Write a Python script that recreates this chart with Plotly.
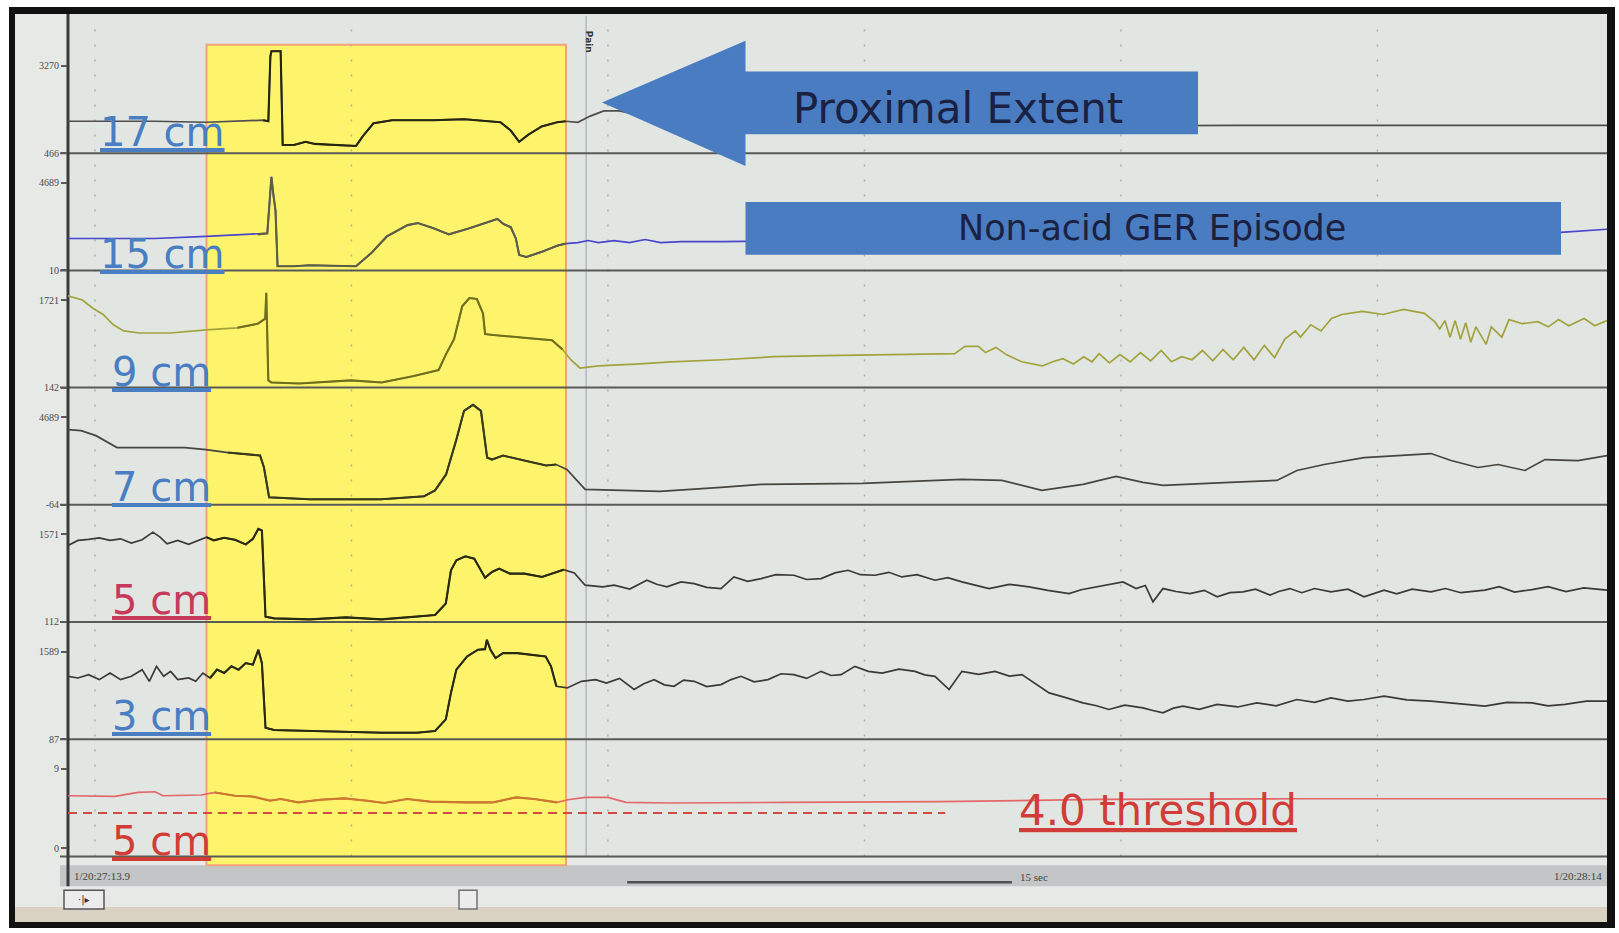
import plotly.graph_objects as go

channel_names = ["17 cm", "15 cm", "9 cm", "7 cm", "5 cm", "3 cm", "5 cm"]
scale_low = [466, 10, 142, -64, 112, 87, 0]
scale_high = [3270, 4689, 1721, 4689, 1571, 1589, 9]

# time in seconds from 1/20:27:13.9 ; impedance in ohm ; pH in units
t_17 = [0, 3.38, 5.39, 7.61, 7.81, 7.89, 7.93, 8.29, 8.37, 8.81, 9.26, 9.62, 10.22, 11.23, 11.51, 11.91,
        12.64, 14.25, 15.45, 16.26, 16.86, 17.26, 17.59, 17.95, 18.47, 19.07, 19.4, 19.88, 20.36, 20.89,
        21.49, 22.29, 23.5, 27.53, 35.57, 45.63, 60]
z_17 = [1489, 1489, 1456, 1522, 1489, 3568, 3733, 3733, 730, 730, 829, 763, 730, 697, 1027, 1423,
        1522, 1522, 1555, 1489, 1456, 1192, 829, 1060, 1324, 1456, 1489, 1456, 1654, 1819,
        1819, 1687, 1489, 1390, 1324, 1357, 1357]

t_15 = [0, 3.38, 5.39, 7.40, 7.77, 7.85, 7.93, 8.01, 8.09, 8.17, 8.81, 9.42, 11.23, 11.83, 12.43, 13.24,
        13.64, 14.25, 14.85, 15.65, 16.46, 16.74, 16.98, 17.26, 17.46, 17.59, 17.87, 18.47, 19.07, 19.40,
        19.88, 20.28, 20.68, 21.29, 21.89, 22.50, 23.10, 23.90, 25.51, 33.56, 41.61, 53.68, 58.19, 60]
z_15 = [1715, 1715, 1825, 1935, 1990, 3475, 5015, 4025, 3200, 230, 230, 285, 230, 945, 1825, 2430,
        2540, 2265, 1935, 2265, 2650, 2760, 2485, 2320, 1715, 835, 725, 1000, 1330, 1440,
        1495, 1605, 1495, 1605, 1495, 1660, 1495, 1550, 1550, 1660, 1825, 1935, 2045, 2210]

t_9 = [0, 0.24, 0.56, 0.97, 1.37, 1.77, 2.17, 2.78, 3.98, 5.39,
       6.60, 7.40, 7.69, 7.73, 7.81, 7.93, 9.01, 11.03, 12.23, 13.44,
       14.45, 14.73, 15.05, 15.37, 15.65, 15.94, 16.18, 16.26, 16.58, 18.27,
       18.87, 19.28, 19.60, 19.96, 20.68, 22.29, 23.50, 25.51, 27.53, 29.54,
       32.76, 34.57, 34.97, 35.49, 35.77, 36.18, 36.58, 37.18, 37.99, 38.39,
       38.79, 39.20, 39.60, 39.92, 40.20, 40.60, 41.01, 41.41, 41.81, 42.21,
       42.62, 43.02, 43.42, 43.82, 44.23, 44.63, 45.03, 45.43, 45.84, 46.24,
       46.64, 47.04, 47.44, 47.85, 48.05, 48.45, 48.85, 49.26, 49.66, 50.46,
       51.27, 52.07, 52.88, 53.28, 53.48, 53.68, 53.88, 54.08, 54.29, 54.49,
       54.69, 54.89, 55.29, 55.49, 55.90, 56.18, 56.70, 57.30, 57.71, 58.11,
       58.51, 59.11, 59.52, 60]
z_9 = [1796, 1758, 1721, 1573, 1461, 1275, 1164, 1127, 1127, 1182,
       1220, 1294, 1387, 1851, 272, 235, 216, 272, 235, 346,
       458, 737, 1015, 1610, 1758, 1740, 1480, 1108, 1090, 1015,
       997, 829, 644, 495, 532, 569, 607, 644, 699, 718,
       737, 755, 885, 885, 774, 867, 737, 607, 532, 607,
       662, 569, 699, 607, 755, 588, 737, 607, 774, 625,
       811, 607, 699, 644, 811, 625, 829, 644, 867, 644,
       904, 681, 1015, 1164, 1052, 1275, 1164, 1387, 1461, 1517,
       1461, 1554, 1480, 1331, 1201, 1350, 1052, 1350, 1015, 1313,
       960, 1238, 922, 1238, 1052, 1368, 1294, 1331, 1238, 1368,
       1257, 1387, 1257, 1350]

t_7 = [0, 0.51, 1.09, 1.91, 3.16, 4.56, 5.38, 6.24, 7.49, 7.64,
       7.84, 9.43, 12.20, 13.88, 14.31, 14.74, 15.13, 15.44, 15.79, 16.10,
       16.34, 16.53, 16.96, 17.78, 18.64, 19.03, 19.45, 20.16, 21.52, 23.08,
       25.46, 27.02, 30.96, 34.85, 36.41, 37.97, 39.57, 40.86, 41.91, 42.69,
       45.30, 47.13, 47.91, 48.97, 50.53, 53.14, 53.92, 54.97, 55.75, 56.80,
       57.58, 58.87, 60]
z_7 = [4013, 3960, 3690, 3042, 3042, 3042, 2934, 2772, 2609, 1961,
       341, 233, 233, 395, 719, 1583, 3420, 5040, 5364, 5040,
       2501, 2393, 2609, 2339, 2069, 2123, 1853, 773, 719, 665,
       881, 1043, 1097, 1313, 1259, 719, 1043, 1475, 1151, 989,
       1151, 1259, 1799, 2123, 2501, 2717, 2339, 1961, 2123, 1799,
       2393, 2339, 2609]

t_5 = [0, 0.39, 0.80, 1.22, 1.64, 2.05, 2.47, 2.89, 3.31, 3.59,
       3.86, 4.28, 4.70, 5.12, 5.40, 5.68, 6.09, 6.51, 6.93, 7.21,
       7.42, 7.56, 7.70, 8.04, 9.43, 10.83, 12.22, 13.61, 14.31, 14.73,
       14.93, 15.14, 15.49, 15.84, 16.26, 16.53, 16.81, 17.23, 17.79, 18.48,
       18.90, 19.32, 19.74, 20.16, 20.85, 21.29, 21.9, 22.57, 22.95, 23.35,
       23.9, 24.41, 24.9, 25.46, 25.96, 26.5, 27.02, 27.6, 28.30, 28.8,
       29.36, 29.9, 30.41, 30.9, 31.46, 32.0, 32.51, 33.1, 33.80, 34.3,
       34.85, 35.4, 35.91, 36.7, 37.47, 38.2, 39.03, 39.5, 40.08, 40.6,
       41.13, 41.64, 42.0, 42.30, 42.69, 43.2, 43.74, 44.3, 44.80, 45.3,
       45.81, 46.3, 46.86, 47.2, 47.64, 48.1, 48.6, 49.24, 49.9, 50.53,
       51.31, 51.8, 52.4, 53.14, 53.7, 54.3, 55.24, 55.8, 56.4, 57.08,
       57.7, 58.4, 59.1, 60]
z_5 = [1389, 1472, 1488, 1515, 1472, 1498, 1427, 1482, 1609, 1526,
       1415, 1472, 1405, 1472, 1526, 1472, 1515, 1482, 1405, 1498,
       1664, 1637, 200, 172, 155, 188, 155, 200, 228, 420,
       974, 1140, 1206, 1166, 851, 946, 1001, 918, 918, 863,
       918, 984, 929, 725, 697, 725, 660, 808, 740, 697,
       780, 752, 690, 669, 863, 790, 835, 900, 891, 820,
       835, 930, 974, 900, 891, 940, 863, 900, 808, 850,
       780, 720, 669, 740, 697, 640, 586, 650, 697, 740,
       780, 669, 720, 449, 669, 620, 586, 640, 531, 600,
       614, 660, 560, 620, 669, 600, 670, 614, 660, 531,
       643, 580, 660, 614, 670, 600, 643, 700, 610, 652,
       700, 620, 680, 643]

t_3 = [0, 0.39, 0.80, 1.22, 1.64, 2.05, 2.47, 2.89, 3.17, 3.45,
       3.73, 4.00, 4.28, 4.70, 4.98, 5.26, 5.54, 5.81, 6.09, 6.37,
       6.65, 6.93, 7.21, 7.42, 7.56, 7.70, 8.04, 9.43, 10.83, 12.22,
       13.61, 14.31, 14.73, 14.93, 15.14, 15.56, 15.98, 16.26, 16.33, 16.47,
       16.67, 16.96, 17.51, 18.07, 18.62, 18.83, 19.04, 19.46, 20.02, 20.57,
       20.99, 21.5, 22.07, 22.45, 22.85, 23.25, 23.63, 24.0, 24.41, 24.9,
       25.46, 25.85, 26.24, 26.75, 27.29, 27.8, 28.30, 28.8, 29.36, 29.75,
       30.14, 30.68, 31.2, 31.74, 32.4, 33.02, 33.4, 33.80, 34.35, 34.85,
       35.5, 36.14, 36.7, 37.19, 37.7, 38.25, 38.9, 39.57, 40.1, 40.58,
       41.2, 41.91, 42.3, 42.69, 43.1, 43.47, 44.1, 44.80, 45.6, 46.35,
       47.1, 47.91, 48.6, 49.24, 49.9, 50.53, 51.31, 52.2, 53.14, 54.2,
       55.24, 56.1, 57.08, 57.7, 58.36, 59.2, 60]
z_3 = [1166, 1137, 1195, 1109, 1222, 1109, 1166, 1280, 1080, 1337,
       1166, 1251, 1109, 1137, 1080, 1222, 1137, 1280, 1222, 1337,
       1280, 1393, 1366, 1622, 1393, 283, 244, 227, 210, 198,
       198, 227, 427, 881, 1280, 1507, 1622, 1632, 1792, 1622,
       1478, 1564, 1564, 1536, 1507, 1337, 995, 966, 1080, 1109,
       1051, 1130, 939, 1040, 1109, 1020, 995, 1100, 1080, 990,
       1024, 1110, 1166, 1070, 1109, 1210, 1195, 1130, 1251, 1180,
       1195, 1337, 1250, 1222, 1290, 1251, 1190, 1166, 939, 1251,
       1200, 1251, 1170, 1195, 1050, 881, 800, 710, 660, 597,
       670, 625, 580, 539, 620, 654, 600, 683, 640, 710,
       660, 768, 720, 795, 740, 768, 824, 760, 739, 700,
       654, 720, 710, 660, 683, 740, 739]

t_ph = [0, 1.83, 2.73, 3.39, 3.70, 5.19, 5.73, 6.51, 7.17, 7.88,
        8.30, 8.97, 9.86, 10.76, 11.66, 12.32, 13.22, 14.11, 15.48, 16.57,
        17.47, 18.17, 19.06, 19.49, 20.16, 21.05, 21.75, 23.51, 27.99, 34.0,
        40.2, 48.0, 60]
ph_5 = [5.96, 5.88, 6.33, 6.41, 5.96, 6.04, 6.33, 5.96, 5.88, 5.40,
        5.59, 5.21, 5.51, 5.66, 5.40, 5.14, 5.59, 5.29, 5.21, 5.21,
        5.77, 5.59, 5.21, 5.51, 5.77, 5.77, 5.21, 5.14, 5.21, 5.29,
        5.55, 5.62, 5.62]

episode = [5.4, 19.42]          # highlighted reflux episode (s)
pain_time = 20.2                # "Pain" event marker (s)
ph_threshold = 4.0
threshold_end = 34.2            # extent of the dashed threshold line (s)
scale_bar = [21.8, 36.8]        # 15 sec scale bar
grid_times = [1.05, 11.05, 21.05, 31.05, 41.05, 51.05]
time_start_label = "1/20:27:13.9"
time_end_label = "1/20:28:14"

series = [(t_17, z_17), (t_15, z_15), (t_9, z_9), (t_7, z_7), (t_5, z_5), (t_3, z_3), (t_ph, ph_5)]

# ---------------- styling / layout ----------------
W, H = 1619, 933
X_L, X_R = 68, 1607
FIRST_BOTTOM, LAST_BOTTOM = 154, 861
PANEL_H = (LAST_BOTTOM - FIRST_BOTTOM) / 6
SPAN = 88            # px between low and high scale marks
PH_ZERO_OFF, PH_SPAN = 8, 80


def px(x):
    return x / W


def py(y):
    return 1 - y / H


out_colors = ["#4d4d4d", "#4a46cc", "#a3a33e", "#464640", "#3a3a36", "#3a3a36", "#e2686a"]
in_colors = ["#26260f", "#5e5e42", "#6e6e1c", "#38381a", "#2a2a12", "#2a2a12", "#c9782c"]
label_colors = ["#4a7ec2", "#4a7ec2", "#4a7ec2", "#4a7ec2", "#c83a5c", "#4a7ec2", "#d23c38"]
label_x = [98, 98, 110, 110, 110, 110, 110]
label_y = [133, 255, 374, 490, 603, 720, 846]

fig = go.Figure()
layout_axes = {}
for k in range(7):
    bottom = FIRST_BOTTOM + PANEL_H * k
    top = bottom - PANEL_H
    lo, hi = scale_low[k], scale_high[k]
    if k < 6:
        rng = [lo, lo + (hi - lo) * PANEL_H / SPAN]
    else:
        ppu = PH_SPAN / (hi - lo)
        rng = [lo - PH_ZERO_OFF / ppu, lo + (PANEL_H - PH_ZERO_OFF) / ppu]
    key = "yaxis" if k == 0 else f"yaxis{k + 1}"
    layout_axes[key] = dict(
        domain=[py(bottom), py(top)], range=rng, anchor="x",
        showgrid=False, zeroline=False, showline=False, fixedrange=True,
        tickmode="array", tickvals=[lo, hi], ticktext=[str(lo), str(hi)],
        ticks="outside", ticklen=6, tickwidth=1.5, tickcolor="#5a5a5a",
        tickfont=dict(family="Liberation Serif", size=10, color="#4a4a4a"),
    )
    yname = "y" if k == 0 else f"y{k + 1}"
    t, v = series[k]
    fig.add_trace(go.Scatter(x=t, y=v, xaxis="x", yaxis=yname, mode="lines",
                             line=dict(color=out_colors[k], width=1.7),
                             hoverinfo="skip", showlegend=False))
    ti = [a for a in t if episode[0] <= a <= episode[1]]
    vi = [b for a, b in zip(t, v) if episode[0] <= a <= episode[1]]
    fig.add_trace(go.Scatter(x=ti, y=vi, xaxis="x", yaxis=yname, mode="lines",
                             line=dict(color=in_colors[k], width=2.1),
                             hoverinfo="skip", showlegend=False))

shapes = []
# frame and backgrounds
shapes.append(dict(type="rect", xref="paper", yref="paper", x0=px(9), x1=px(1615), y0=py(933), y1=py(7),
                   fillcolor="#111111", line=dict(width=0), layer="below"))
shapes.append(dict(type="rect", xref="paper", yref="paper", x0=px(15), x1=px(1607), y0=py(927), y1=py(14),
                   fillcolor="#e6e9e6", line=dict(width=0), layer="below"))
shapes.append(dict(type="rect", xref="paper", yref="paper", x0=px(66), x1=px(1607), y0=py(861), y1=py(14),
                   fillcolor="#e1e6e2", line=dict(width=0), layer="below"))
shapes.append(dict(type="rect", xref="paper", yref="paper", x0=px(60), x1=px(1607), y0=py(891), y1=py(870),
                   fillcolor="#c3c5c7", line=dict(width=0), layer="below"))
shapes.append(dict(type="rect", xref="paper", yref="paper", x0=px(15), x1=px(1607), y0=py(927), y1=py(912),
                   fillcolor="#d9d2c2", line=dict(width=0), layer="below"))
# highlighted episode
shapes.append(dict(type="rect", xref="paper", yref="paper", x0=px(206.5), x1=px(566), y0=py(870), y1=py(45),
                   fillcolor="#fdf46c", line=dict(color="#f2a27c", width=2), layer="below"))
# dotted time grid
for g in grid_times:
    shapes.append(dict(type="line", xref="x", yref="paper", x0=g, x1=g, y0=py(861), y1=py(18),
                       line=dict(color="#aab0ab", width=1.5, dash="2px,13px"), layer="below"))
# pain marker
shapes.append(dict(type="line", xref="x", yref="paper", x0=pain_time, x1=pain_time, y0=py(861), y1=py(16),
                   line=dict(color="#b2bac7", width=1.6), layer="below"))
# panel separators
for k in range(7):
    b = FIRST_BOTTOM + PANEL_H * k
    shapes.append(dict(type="line", xref="paper", yref="paper", x0=px(60), x1=px(1607), y0=py(b), y1=py(b),
                       line=dict(color="#585a58", width=2), layer="below"))
# left axis line
shapes.append(dict(type="line", xref="paper", yref="paper", x0=px(68), x1=px(68), y0=py(891), y1=py(14),
                   line=dict(color="#3a3a3a", width=3), layer="below"))
# pH threshold
shapes.append(dict(type="line", xref="x", yref="y7", x0=0, x1=threshold_end, y0=ph_threshold, y1=ph_threshold,
                   line=dict(color="#d24a40", width=2, dash="9px,6px"), layer="above"))
# 15 sec scale bar
shapes.append(dict(type="line", xref="x", yref="paper", x0=scale_bar[0], x1=scale_bar[1], y0=py(887), y1=py(887),
                   line=dict(color="#505050", width=2.5), layer="above"))
# slider thumb and little widget
shapes.append(dict(type="rect", xref="paper", yref="paper", x0=px(459), x1=px(477), y0=py(914), y1=py(895),
                   fillcolor="#ececec", line=dict(color="#707070", width=1.5), layer="above"))
shapes.append(dict(type="rect", xref="paper", yref="paper", x0=px(64), x1=px(104), y0=py(914), y1=py(895),
                   fillcolor="#ececec", line=dict(color="#555555", width=1.5), layer="above"))
# Proximal extent arrow
arrow_pts = [(602, 103), (745.5, 41), (745.5, 72), (1198, 72), (1198, 135), (745.5, 135), (745.5, 167)]
arrow_path = "M " + " L ".join(f"{px(x):.5f},{py(y):.5f}" for x, y in arrow_pts) + " Z"
shapes.append(dict(type="path", xref="paper", yref="paper", path=arrow_path,
                   fillcolor="#4a7cc2", line=dict(width=0), layer="above"))
# Non-acid GER box
shapes.append(dict(type="rect", xref="paper", yref="paper", x0=px(745.5), x1=px(1561), y0=py(256), y1=py(203),
                   fillcolor="#4a7cc2", line=dict(width=0), layer="above"))

annotations = []
for k in range(7):
    annotations.append(dict(xref="paper", yref="paper", x=px(label_x[k]), y=py(label_y[k]),
                            xanchor="left", yanchor="middle", showarrow=False,
                            text=f"<u>{channel_names[k]}</u>",
                            font=dict(family="DejaVu Sans", size=40, color=label_colors[k])))
annotations += [
    dict(xref="paper", yref="paper", x=px(958), y=py(109), text="Proximal Extent", showarrow=False,
         xanchor="center", yanchor="middle", font=dict(family="DejaVu Sans", size=42, color="#1b2140")),
    dict(xref="paper", yref="paper", x=px(1152), y=py(229), text="Non-acid GER Episode", showarrow=False,
         xanchor="center", yanchor="middle", font=dict(family="DejaVu Sans", size=35, color="#1b2140")),
    dict(xref="paper", yref="paper", x=px(1158), y=py(815), text="<u>4.0 threshold</u>", showarrow=False,
         xanchor="center", yanchor="middle", font=dict(family="DejaVu Sans", size=42, color="#d23c38")),
    dict(xref="paper", yref="paper", x=px(589), y=py(42), text="<b>Pain</b>", showarrow=False, textangle=90,
         xanchor="center", yanchor="middle", font=dict(family="DejaVu Sans", size=9, color="#333333")),
    dict(xref="paper", yref="paper", x=px(72), y=py(881), text=time_start_label, showarrow=False,
         xanchor="left", yanchor="middle", font=dict(family="Liberation Serif", size=11, color="#444444")),
    dict(xref="paper", yref="paper", x=px(1604), y=py(881), text=time_end_label, showarrow=False,
         xanchor="right", yanchor="middle", font=dict(family="Liberation Serif", size=11, color="#444444")),
    dict(xref="paper", yref="paper", x=px(1018), y=py(882), text="15 sec", showarrow=False,
         xanchor="left", yanchor="middle", font=dict(family="Liberation Serif", size=11, color="#444444")),
    dict(xref="paper", yref="paper", x=px(84), y=py(904.5), text="·|▸", showarrow=False,
         xanchor="center", yanchor="middle", font=dict(family="DejaVu Sans", size=10, color="#333333")),
]

fig.update_layout(
    width=W, height=H, margin=dict(l=0, r=0, t=0, b=0),
    paper_bgcolor="#ffffff", plot_bgcolor="rgba(0,0,0,0)", showlegend=False,
    xaxis=dict(domain=[px(X_L), px(X_R)], range=[0, 60], anchor="y7", visible=False, fixedrange=True),
    shapes=shapes, annotations=annotations,
    **layout_axes,
)

fig.write_html("out.html", config={"displayModeBar": False},
               post_script="document.body.style.margin='0';document.body.style.overflow='hidden';")
